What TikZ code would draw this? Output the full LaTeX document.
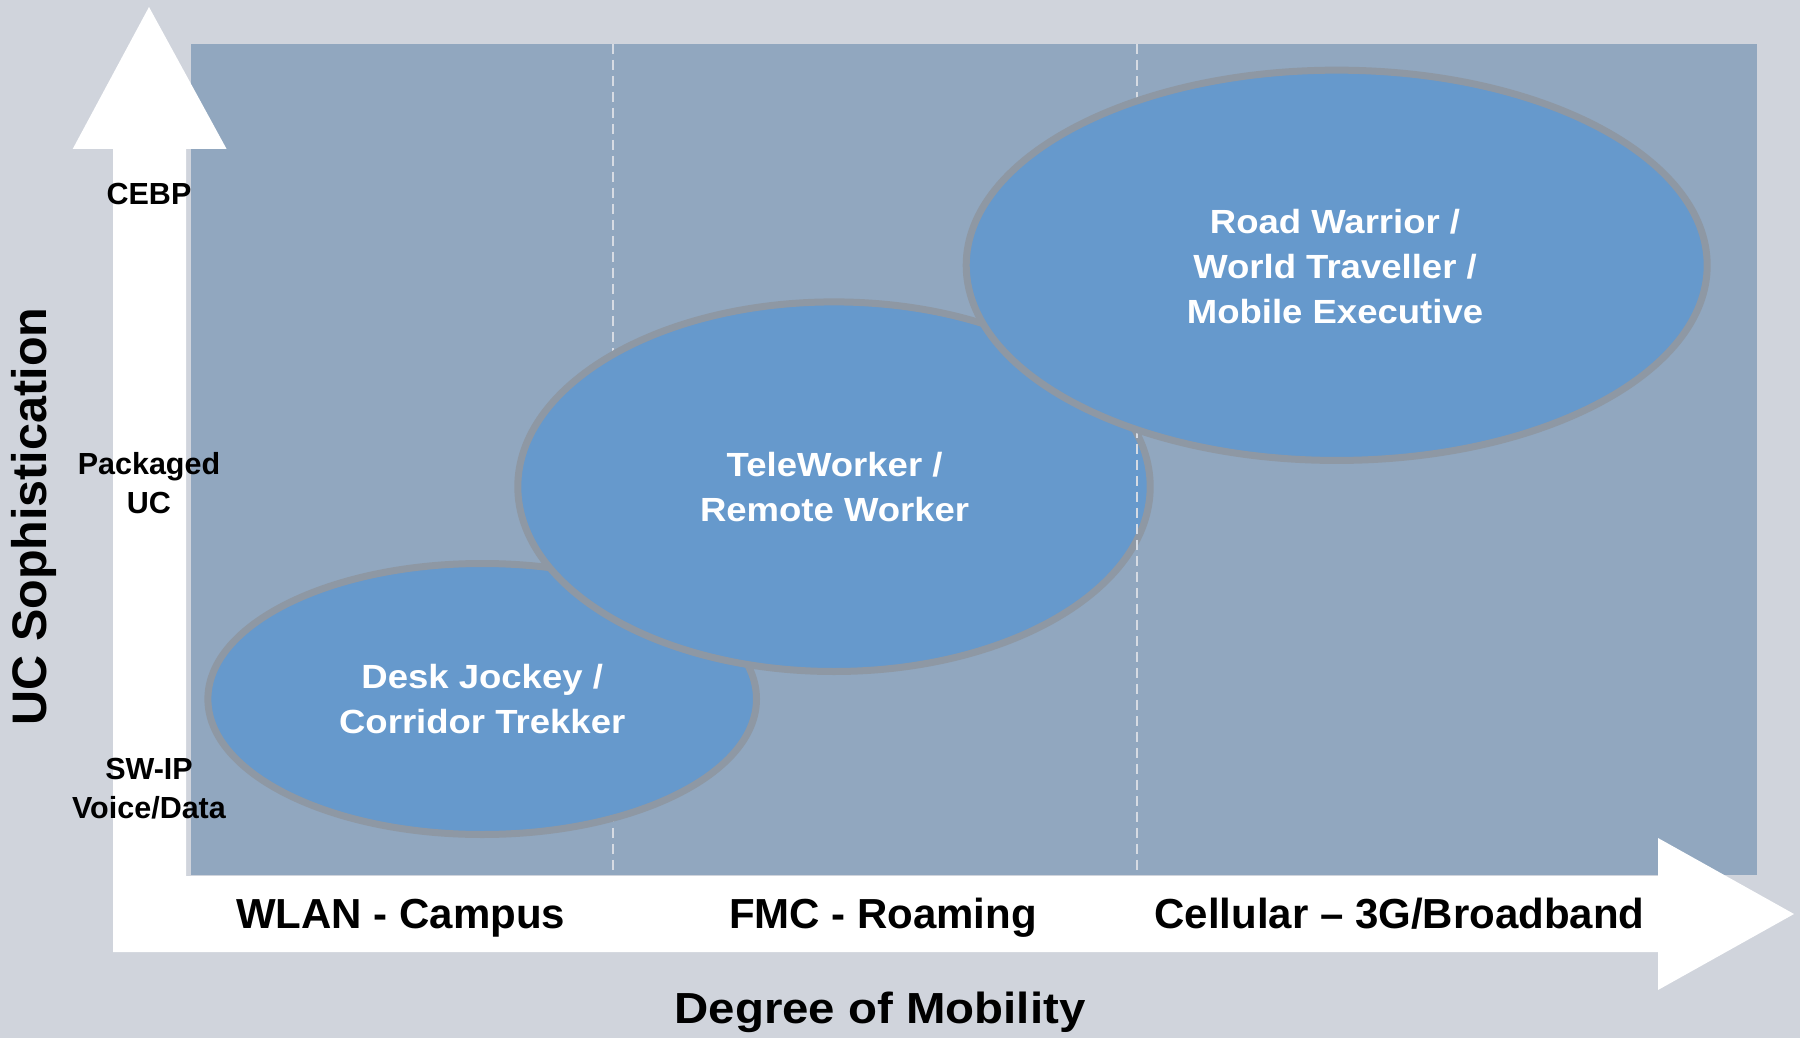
\documentclass[tikz,border=0pt]{standalone}
\usepackage{fontspec}
\setmainfont{Liberation Sans}
\newfontfamily\wideface{Liberation Sans}[FakeStretch=1.09]
\usetikzlibrary{shapes.geometric}
\definecolor{bgc}{RGB}{208,212,220}
\definecolor{panelc}{RGB}{145,167,191}
\definecolor{ellfill}{RGB}{102,153,204}
\definecolor{ellline}{RGB}{142,152,164}
\definecolor{dashc}{RGB}{214,219,227}
\begin{document}
\begin{tikzpicture}[x=1pt,y=-1pt,
  bubble/.style={ellipse, fill=ellfill, draw=ellline, line width=7pt, inner sep=0pt},
  bubbletext/.style={text=white, font=\wideface\bfseries\fontsize{33.5}{45}\selectfont, align=center, inner sep=0pt},
  ticklabel/.style={text=black, font=\bfseries\fontsize{30.5}{38.5}\selectfont, align=center, inner sep=0pt},
  axislabel/.style={text=black, font=\bfseries\fontsize{42}{50}\selectfont, inner sep=0pt, anchor=base},
  axistitle/.style={text=black, font=\bfseries\fontsize{48.5}{56}\selectfont, inner sep=0pt},
  dashline/.style={draw=dashc, line width=2pt, dash pattern=on 10pt off 6pt}]
\useasboundingbox (0,0) rectangle (1800,1038);
\fill[bgc] (0,0) rectangle (1800,1038);
% panel
\node (panel) [fill=panelc, minimum width=1566pt, minimum height=831.4pt, inner sep=0pt, anchor=north west] at (190.6,43.6) {};
% axes arrow (white L-shaped double arrow)
\fill[white] (149,7) -- (226.6,149) -- (186,149) -- (186,876) -- (1658,876) -- (1658,838)
  -- (1794,914) -- (1658,990) -- (1658,952) -- (113,952) -- (113,149) -- (72.7,149) -- cycle;
% left dashed divider
\draw[dashline] (613,43.6) -- (613,875);
% bubbles
\node (desk) [bubble, minimum width=548.6pt, minimum height=271pt] at (482.2,699) {};
\node (tele) [bubble, minimum width=632.4pt, minimum height=369.6pt] at (834,486.7) {};
\draw[dashline] (1137,43.6) -- (1137,875);
\node (road) [bubble, minimum width=741pt, minimum height=390.3pt] at (1336.7,265.3) {};
% bubble texts
\node (deskt) [bubbletext] at (482.2,699.5) {Desk Jockey /\\Corridor Trekker};
\node (telet) [bubbletext] at (834.6,487.5) {TeleWorker /\\Remote Worker};
\node (roadt) [bubbletext] at (1335,266.3) {Road Warrior /\\World Traveller /\\Mobile Executive};
% y tick labels
\node (cebp) [ticklabel] at (149,194) {CEBP};
\node (puc) [ticklabel] at (149,483) {Packaged\\UC};
\node (swip) [ticklabel] at (149,788.5) {SW-IP\\Voice/Data};
% x labels
\node (wlan) [axislabel] at (400.6,928) {WLAN - Campus};
\node (fmc) [axislabel] at (883,928) {FMC - Roaming};
\node (cell) [axislabel] at (1399.4,928) {Cellular – 3G/Broadband};
% axis titles
\node (ytitle) [axistitle, rotate=90] at (34,516.5) {UC Sophistication};
\node (xtitle) [text=black, font=\wideface\bfseries\fontsize{43.5}{52}\selectfont, inner sep=0pt, anchor=base] at (880,1023.3) {Degree of Mobility};
\end{tikzpicture}
\end{document}
